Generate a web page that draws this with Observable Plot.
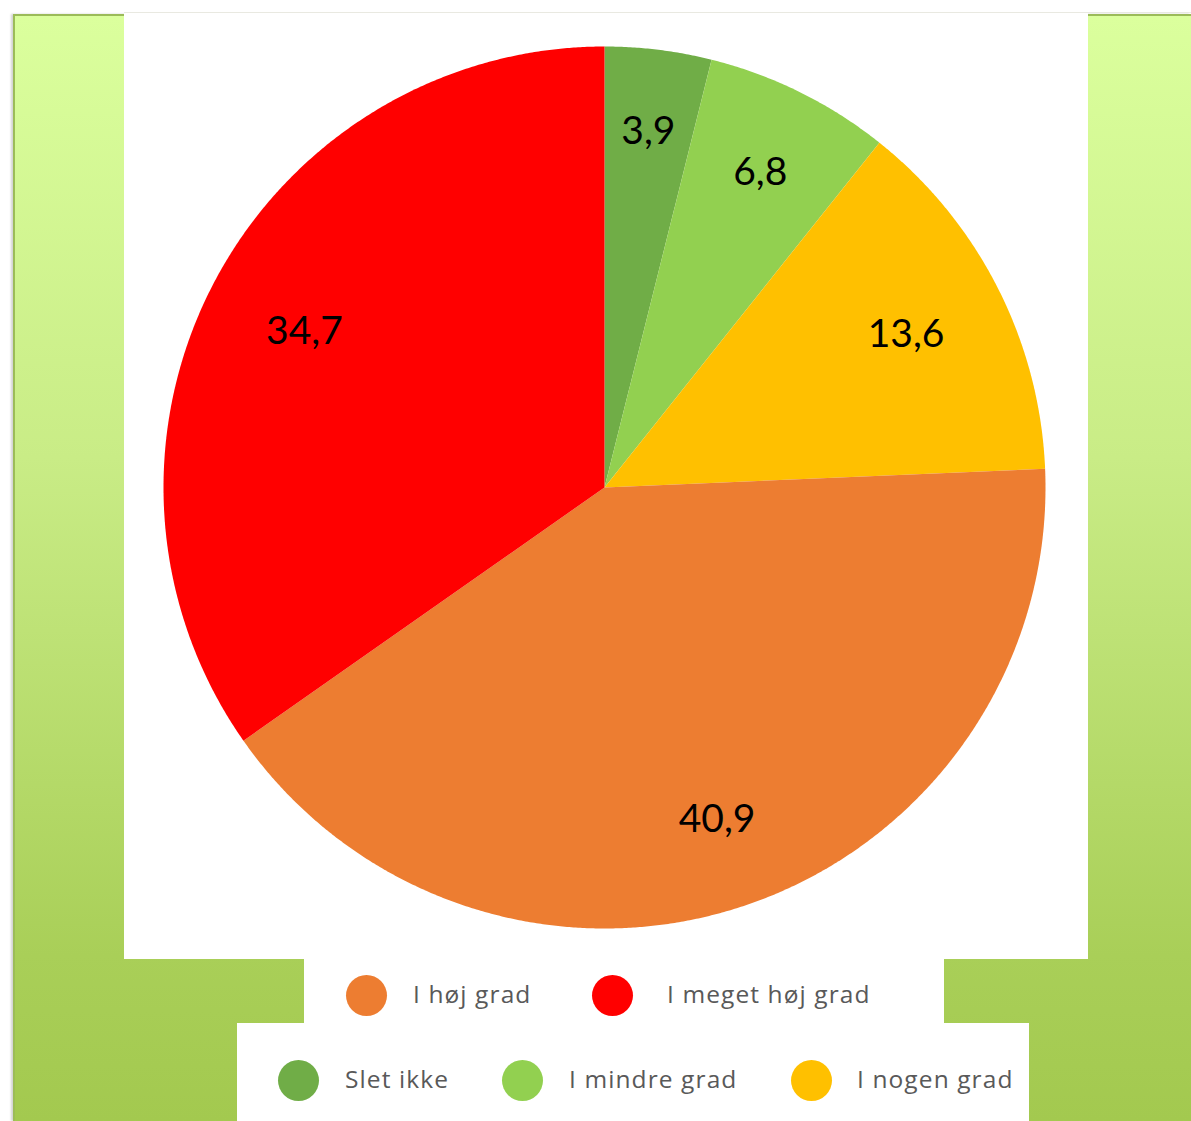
<!DOCTYPE html>
<html>
<head>
<meta charset="utf-8">
<script src="https://cdn.jsdelivr.net/npm/d3@7"></script>
<script src="https://cdn.jsdelivr.net/npm/@observablehq/plot@0.6"></script>
<style>
  html, body { margin: 0; padding: 0; background: #fff; }
  #page { position: relative; width: 1191px; height: 1121px; overflow: hidden; background: #fff; }
  #bg { position: absolute; left: 13px; top: 14px; width: 1178px; height: 1107px;
        background: linear-gradient(to bottom, #dbff9d 0%, #c9ec86 40%, #a9cf58 85%, #a3c94f 100%);
        border-top: 2px solid #9bbb59; border-left: 2px solid #9cbc58;
        box-shadow: -2px 0 2px rgba(0,0,0,0.18); box-sizing: border-box; }
  #topline { position: absolute; left: 124px; top: 12px; width: 1067px; height: 1px; background: #ecece4; }
  .panel { position: absolute; background: #fff; }
  #chart { position: absolute; left: 124px; top: 14px; }
  .dot { position: absolute; width: 41px; height: 41px; border-radius: 50%; }
  .txt { position: absolute; font-family: "Open Sans", Lato, sans-serif; font-size: 24.5px; letter-spacing: 1.1px;
         color: #595959; white-space: nowrap; line-height: 42px; height: 42px; }
</style>
</head>
<body>
<div id="page">
  <div id="topline"></div>
  <div id="bg"></div>
  <div class="panel" style="left:124px;top:13px;width:964px;height:946px;"></div>
  <div class="panel" style="left:304px;top:959px;width:640px;height:65px;"></div>
  <div class="panel" style="left:237px;top:1023px;width:792px;height:98px;"></div>
  <div id="chart"></div>
  <div id="legend"></div>
</div>
<script>
// ---- data ----
const categories = ["Slet ikke", "I mindre grad", "I nogen grad", "I høj grad", "I meget høj grad"];
const values = [3.9, 6.8, 13.6, 40.9, 34.7];
const valueLabels = ["3,9", "6,8", "13,6", "40,9", "34,7"];
const colors = ["#70ad47", "#92d050", "#ffc000", "#ed7d31", "#ff0000"];
const legendRow1 = ["I høj grad", "I meget høj grad"];
const legendRow2 = ["Slet ikke", "I mindre grad", "I nogen grad"];

// ---- geometry (pie slices as planar polygons) ----
const R = 441;            // pie radius in pixels (for label box layout)
const labelFont = 39;
const rows = categories.map((c, i) => ({category: c, value: values[i], label: valueLabels[i]}));
const arcs = d3.pie().sort(null).value(d => d.value)(rows);
const pt = (a, r) => [r * Math.sin(a), r * Math.cos(a)];
const sliceFeatures = arcs.map(a => {
  const ring = [[0, 0]];
  const n = Math.max(8, Math.ceil((a.endAngle - a.startAngle) / 0.005));
  for (let k = 0; k <= n; k++) ring.push(pt(a.startAngle + (a.endAngle - a.startAngle) * k / n, 1));
  ring.push([0, 0]);
  return {type: "Feature", properties: a.data, geometry: {type: "Polygon", coordinates: [ring]}};
});
const outline = {type: "Polygon", coordinates: [d3.range(0, 361, 1).map(t => pt(t * Math.PI / 180, 1))]};

// label boxes placed so that their outer extent sits at a fixed radius (Excel-like inside-end fit)
const ctx = document.createElement("canvas").getContext("2d");
ctx.font = `${labelFont}px Lato`;
const labelPoints = arcs.map(a => {
  const m = (a.startAngle + a.endAngle) / 2;
  const hw = ctx.measureText(a.data.label).width / 2;
  const hh = 20;
  const ext = hw * Math.abs(Math.sin(m)) + hh * Math.abs(Math.cos(m));
  const r = (0.865 * R - ext) / R;
  const [x, y] = pt(m, r);
  return {x, y, label: a.data.label};
});

const chart = Plot.plot({
  width: 964,
  height: 944,
  marginLeft: 39,
  marginRight: 43,
  marginTop: 32,
  marginBottom: 30,
  projection: {type: "reflect-y", domain: outline},
  color: {domain: categories, range: colors},
  style: {background: "white", fontFamily: "Lato, 'Open Sans', sans-serif"},
  marks: [
    Plot.geo(sliceFeatures, {fill: d => d.properties.category, stroke: "none"}),
    Plot.text(labelPoints, {x: "x", y: "y", text: "label", fontSize: labelFont, fill: "black"})
  ]
});
document.getElementById("chart").appendChild(chart);

// ---- legend ----
const legend = document.getElementById("legend");
const colorOf = c => colors[categories.indexOf(c)];
function addItem(name, cx, tx, cy) {
  const dot = document.createElement("div");
  dot.className = "dot";
  dot.style.left = (cx - 20.5) + "px";
  dot.style.top = (cy - 20.5) + "px";
  dot.style.background = colorOf(name);
  const txt = document.createElement("div");
  txt.className = "txt";
  txt.style.left = tx + "px";
  txt.style.top = (cy - 22) + "px";
  txt.textContent = name;
  legend.appendChild(dot); legend.appendChild(txt);
}
const row1Layout = [[366, 413], [612, 667]];
const row2Layout = [[298, 345], [522, 569], [811, 857]];
legendRow1.forEach((n, i) => addItem(n, row1Layout[i][0], row1Layout[i][1], 995));
legendRow2.forEach((n, i) => addItem(n, row2Layout[i][0], row2Layout[i][1], 1080));
</script>
</body>
</html>
